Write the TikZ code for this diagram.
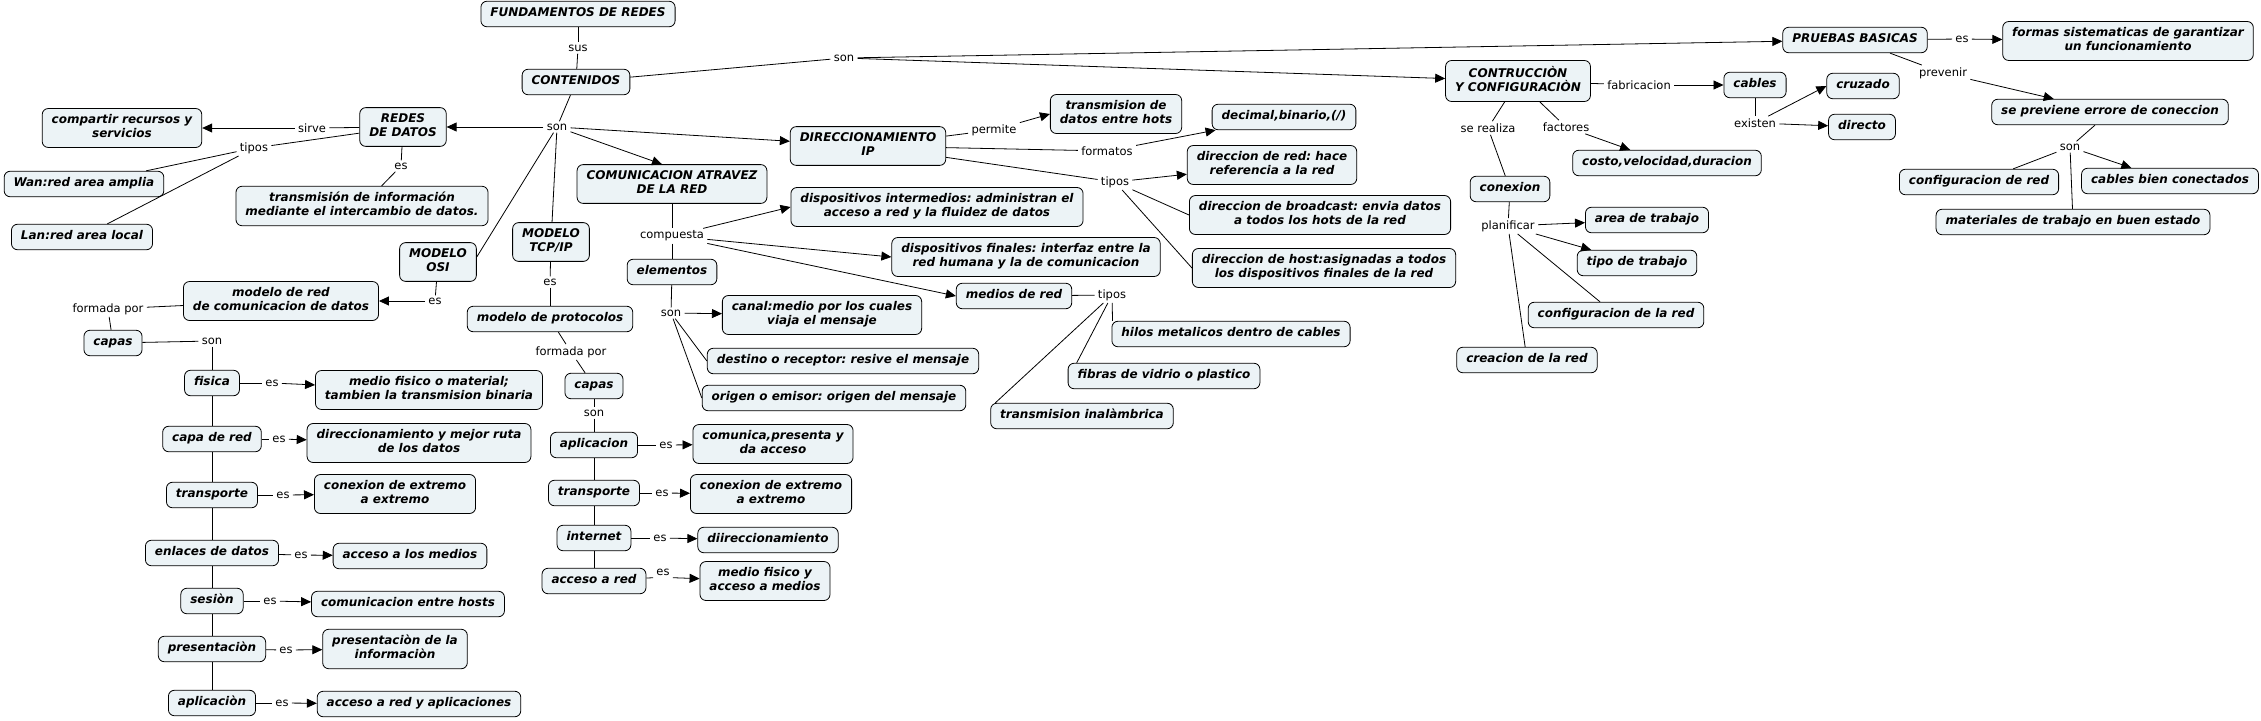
\documentclass[tikz,border=0pt]{standalone}
\usepackage{fontspec}
\setmainfont{DejaVu Sans}
\usetikzlibrary{arrows.meta}
\definecolor{fundo}{RGB}{236,243,246}
\frenchspacing
\tikzset{
  concepto/.style={draw=black, line width=0.8pt, fill=fundo, rounded corners=6pt, align=center,
    inner xsep=9.5pt, inner ysep=5.5pt, font=\fontsize{12}{14.5}\selectfont\bfseries\itshape,
    execute at begin node=\strut, execute at end node=\strut},
  enlace/.style={inner xsep=3pt, inner ysep=2pt, font=\fontsize{11.5}{14}\selectfont},
  flecha/.style={-{Triangle[length=10pt,width=9pt]}}
}
\begin{document}
\begin{tikzpicture}[x=1pt, y=-1pt, line width=0.8pt] %Mapa conceptual
\useasboundingbox (0,0) rectangle (2261,720);
					%Inicio
\node[concepto] (fund) at (578,14) {FUNDAMENTOS DE REDES};
\node[enlace] (sus) at (578,48) {sus};
\node[concepto] (cont) at (576,82) {CONTENIDOS};
\node[enlace] (son1) at (844,58) {son};
\node[enlace] (son2) at (557,127) {son};
\draw (fund) -- (sus);
\draw (sus) -- (cont);
\draw (cont) -- (son1);
\draw (cont) -- (son2);
					%Redes de datos
\node[concepto] (redes) at (403,127) {REDES\\DE DATOS};
\node[enlace] (sirve) at (312,128) {sirve};
\node[concepto] (compartir) at (122,128) {compartir recursos y\\servicios};
\node[enlace] (tipos1) at (254,148) {tipos};
\node[concepto] (wan) at (84,184) {Wan:red area amplia};
\node[concepto] (lan) at (82,237) {Lan:red area local};
\node[enlace] (es1) at (401,166) {es};
\node[concepto] (transinf) at (362,206) {transmisión de información\\mediante el intercambio de datos.};
\draw[flecha] (son2) -- (redes);
\draw (redes) -- (sirve);
\draw[flecha] (sirve) -- (compartir);
\draw (redes) -- (tipos1);
\draw (tipos1) -- (wan);
\draw (tipos1) -- (lan);
\draw (redes) -- (es1);
\draw (es1) -- (transinf);
					%Modelo OSI
\node[concepto] (osi) at (438,262) {MODELO\\OSI};
\node[enlace] (es2) at (435,301) {es};
\node[concepto] (modred) at (281,301) {modelo de red\\de comunicacion de datos};
\node[enlace] (formada1) at (108,309) {formada por};
\node[concepto] (capas1) at (113,343) {capas};
\node[enlace] (son3) at (212,341) {son};
\node[concepto] (fisica) at (212,383) {fisica};
\node[enlace] (es3) at (272,383) {es};
\node[concepto] (fisicab) at (429,390) {medio fisico o material;\\tambien la transmision binaria};
\node[concepto] (capared) at (212,439) {capa de red};
\node[enlace] (es6) at (279,439) {es};
\node[concepto] (caparedb) at (419,443) {direccionamiento y mejor ruta\\de los datos};
\node[concepto] (transp1) at (212,495) {transporte};
\node[enlace] (es7) at (283,495) {es};
\node[concepto] (transp1b) at (395,494) {conexion de extremo\\a extremo};
\node[concepto] (enlaces) at (212,553) {enlaces de datos};
\node[enlace] (es8) at (301,555) {es};
\node[concepto] (enlacesb) at (410,556) {acceso a los medios};
\node[concepto] (sesion) at (212,601) {sesiòn};
\node[enlace] (es9) at (270,601) {es};
\node[concepto] (sesionb) at (408,604) {comunicacion entre hosts};
\node[concepto] (present) at (212,649) {presentaciòn};
\node[enlace] (es10) at (286,650) {es};
\node[concepto] (presentb) at (395,649) {presentaciòn de la\\informaciòn};
\node[concepto] (aplic1) at (212,703) {aplicaciòn};
\node[enlace] (es11) at (282,703) {es};
\node[concepto] (aplic1b) at (419,704) {acceso a red y aplicaciones};
\draw (son2) -- ([yshift=5pt]osi.east);
\draw (osi) -- (es2);
\draw[flecha] (es2) -- (modred);
\draw (modred) -- (formada1);
\draw (formada1) -- (capas1);
\draw (capas1) -- (son3);
\draw (son3) -- (fisica);
\draw (fisica) -- (capared);
\draw (capared) -- (transp1);
\draw (transp1) -- (enlaces);
\draw (enlaces) -- (sesion);
\draw (sesion) -- (present);
\draw (present) -- (aplic1);
\draw (fisica) -- (es3);
\draw[flecha] (es3) -- (fisicab);
\draw (capared) -- (es6);
\draw[flecha] (es6) -- (caparedb);
\draw (transp1) -- (es7);
\draw[flecha] (es7) -- (transp1b);
\draw (enlaces) -- (es8);
\draw[flecha] (es8) -- (enlacesb);
\draw (sesion) -- (es9);
\draw[flecha] (es9) -- (sesionb);
\draw (present) -- (es10);
\draw[flecha] (es10) -- (presentb);
\draw (aplic1) -- (es11);
\draw[flecha] (es11) -- (aplic1b);
					%Modelo TCP/IP
\node[concepto] (tcp) at (551,242) {MODELO\\TCP/IP};
\node[enlace] (es4) at (550,282) {es};
\node[concepto] (protoc) at (550,319) {modelo de protocolos};
\node[enlace] (formada2) at (571,352) {formada por};
\node[concepto] (capas2) at (594,386) {capas};
\node[enlace] (son4) at (594,413) {son};
\node[concepto] (aplic2) at (594,445) {aplicacion};
\node[enlace] (es12) at (666,445) {es};
\node[concepto] (aplic2b) at (773,444) {comunica,presenta y\\da acceso};
\node[concepto] (transp2) at (594,493) {transporte};
\node[enlace] (es13) at (662,493) {es};
\node[concepto] (transp2b) at (771,494) {conexion de extremo\\a extremo};
\node[concepto] (internet) at (594,538) {internet};
\node[enlace] (es14) at (660,538) {es};
\node[concepto] (internetb) at (768,540) {diireccionamiento};
\node[concepto] (accred) at (594,581) {acceso a red};
\node[enlace] (es15) at (663,572) {es};
\node[concepto] (accredb) at (765,581) {medio fisico y\\acceso a medios};
\draw (son2) -- (tcp);
\draw (tcp) -- (es4);
\draw (es4) -- (protoc);
\draw (protoc) -- (formada2);
\draw (formada2) -- (capas2);
\draw (capas2) -- (son4);
\draw (son4) -- (aplic2);
\draw (aplic2) -- (transp2);
\draw (transp2) -- (internet);
\draw (internet) -- (accred);
\draw (aplic2) -- (es12);
\draw[flecha] (es12) -- (aplic2b);
\draw (transp2) -- (es13);
\draw[flecha] (es13) -- (transp2b);
\draw (internet) -- (es14);
\draw[flecha] (es14) -- (internetb);
\draw (accred) -- (es15.south west);
\draw[flecha] (es15.south east) -- (accredb);
					%Comunicacion
\node[concepto] (comun) at (672,184) {COMUNICACION ATRAVEZ\\DE LA RED};
\node[enlace] (compuesta) at (672,236) {compuesta};
\node[concepto] (dinter) at (937,207) {dispositivos intermedios: administran el\\acceso a red y la fluidez de datos};
\node[concepto] (dfinal) at (1026,257) {dispositivos finales: interfaz entre la\\red humana y la de comunicacion};
\node[concepto] (medios) at (1014,296) {medios de red};
\node[enlace] (tipos3) at (1112,295) {tipos};
\node[concepto] (hilos) at (1231,334) {hilos metalicos dentro de cables};
\node[concepto] (fibras) at (1164,376) {fibras de vidrio o plastico};
\node[concepto] (inalam) at (1082,416) {transmision inalàmbrica};
\node[concepto] (elem) at (672,272) {elementos};
\node[enlace] (son5) at (671,313) {son};
\node[concepto] (canal) at (822,315) {canal:medio por los cuales\\viaja el mensaje};
\node[concepto] (destino) at (843,361) {destino o receptor: resive el mensaje};
\node[concepto] (origen) at (834,398) {origen o emisor: origen del mensaje};
\draw[flecha] (son2) -- ([xshift=-10pt]comun.north);
\draw (comun) -- (compuesta);
\draw[flecha] (compuesta) -- (dinter.west);
\draw[flecha] (compuesta) -- (dfinal.west);
\draw[flecha] (compuesta) -- (medios.west);
\draw (medios) -- (tipos3);
\draw (tipos3) -- ([xshift=1pt]hilos.north west);
\draw (tipos3) -- ([xshift=9pt]fibras.north west);
\draw (tipos3) -- ([xshift=5pt]inalam.north west);
\draw (compuesta) -- (elem);
\draw (elem) -- (son5);
\draw[flecha] (son5) -- (canal);
\draw (son5) -- (destino.west);
\draw (son5) -- (origen.west);
					%Direccionamiento IP
\node[concepto] (dirip) at (868,146) {DIRECCIONAMIENTO\\IP};
\node[enlace] (permite) at (994,130) {permite};
\node[concepto] (transdat) at (1116,114) {transmision de\\datos entre hots};
\node[enlace] (formatos) at (1107,151) {formatos};
\node[concepto] (decimal) at (1284,117) {decimal,binario,(/)};
\node[enlace] (tipos2) at (1115,182) {tipos};
\node[concepto] (dred) at (1272,165) {direccion de red: hace\\referencia a la red};
\node[concepto] (dbroad) at (1320,215) {direccion de broadcast: envia datos\\a todos los hots de la red};
\node[concepto] (dhost) at (1324,268) {direccion de host:asignadas a todos\\los dispositivos finales de la red};
\draw[flecha] (son2) -- (dirip);
\draw (dirip) -- (permite);
\draw[flecha] (permite) -- (transdat.west);
\draw (dirip) -- (formatos);
\draw[flecha] (formatos) -- (decimal);
\draw (dirip) -- (tipos2);
\draw[flecha] (tipos2) -- (dred);
\draw (tipos2) -- (dbroad.west);
\draw (tipos2) -- (dhost.west);
					%Contruccion y configuracion
\node[concepto] (constr) at (1518,81) {CONTRUCCIÒN\\Y CONFIGURACIÒN};
\node[enlace] (fabric) at (1639,85) {fabricacion};
\node[concepto] (cables) at (1755,85) {cables};
\node[enlace] (existen) at (1755,123) {existen};
\node[concepto] (cruzado) at (1863,86) {cruzado};
\node[concepto] (directo) at (1862,127) {directo};
\node[enlace] (serealiza) at (1488,128) {se realiza};
\node[enlace] (factores) at (1566,127) {factores};
\node[concepto] (costo) at (1667,163) {costo,velocidad,duracion};
\node[concepto] (conexion) at (1510,189) {conexion};
\node[enlace] (planif) at (1508,226) {planificar};
\node[concepto] (area) at (1647,220) {area de trabajo};
\node[concepto] (tipotrab) at (1637,263) {tipo de trabajo};
\node[concepto] (confred) at (1616,315) {configuracion de la red};
\node[concepto] (creacion) at (1527,360) {creacion de la red};
\draw[flecha] (son1) -- (constr);
\draw (constr) -- (fabric);
\draw[flecha] (fabric) -- (cables);
\draw (cables) -- (existen);
\draw[flecha] (existen) -- (cruzado.west);
\draw[flecha] (existen) -- (directo);
\draw (constr) -- (serealiza);
\draw (serealiza) -- (conexion);
\draw (constr) -- (factores);
\draw[flecha] (factores) -- (costo);
\draw (conexion) -- (planif);
\draw[flecha] (planif) -- (area);
\draw[flecha] (planif) -- (tipotrab);
\draw (planif) -- (confred);
\draw (planif) -- (creacion);
					%Pruebas basicas
\node[concepto] (pruebas) at (1855,40) {PRUEBAS BASICAS};
\node[enlace] (es5) at (1962,39) {es};
\node[concepto] (formas) at (2128,41) {formas sistematicas de garantizar\\un funcionamiento};
\node[enlace] (prevenir) at (1943,73) {prevenir};
\node[concepto] (previene) at (2110,112) {se previene errore de coneccion};
\node[enlace] (son6) at (2070,147) {son};
\node[concepto] (confred2) at (1979,182) {configuracion de red};
\node[concepto] (cablesb) at (2170,181) {cables bien conectados};
\node[concepto] (materiales) at (2073,222) {materiales de trabajo en buen estado};
\draw[flecha] (son1) -- (pruebas);
\draw (pruebas) -- (es5);
\draw[flecha] (es5) -- (formas);
\draw (pruebas) -- (prevenir);
\draw[flecha] (prevenir) -- (previene);
\draw (previene) -- (son6);
\draw (son6) -- (confred2);
\draw[flecha] (son6) -- (cablesb);
\draw (son6) -- (materiales);
\end{tikzpicture}
\end{document}
